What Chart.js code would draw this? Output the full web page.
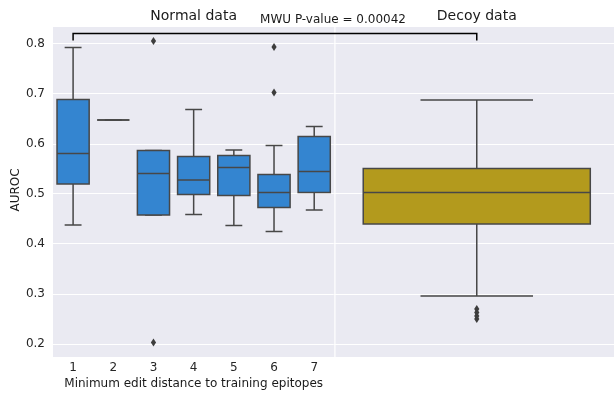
<!DOCTYPE html>
<html>
<head>
<meta charset="utf-8">
<script src="https://cdn.jsdelivr.net/npm/chart.js@4/dist/chart.umd.min.js"></script>
<style>
  body { margin: 0; background: #fff; }
  #chart-container { width: 614px; height: 396px; position: relative; }
</style>
</head>
<body>
<div id="chart-container"><canvas id="chart"></canvas></div>
<script>
// values
const categories = ["1", "2", "3", "4", "5", "6", "7"];
const whiskerLow = [0.438, 0.648, 0.458, 0.459, 0.437, 0.425, 0.468];
const q1 = [0.520, 0.648, 0.458, 0.499, 0.497, 0.473, 0.503];
const medians = [0.581, 0.648, 0.541, 0.528, 0.553, 0.503, 0.545];
const q3 = [0.689, 0.648, 0.587, 0.575, 0.577, 0.539, 0.615];
const whiskerHigh = [0.793, 0.648, 0.587, 0.669, 0.588, 0.597, 0.635];
const outliers = [[], [], [0.806, 0.203], [], [], [0.794, 0.703], []];

// decoy: low whisker, q1, median, q3, high whisker
const decoyStats = [0.296, 0.440, 0.503, 0.551, 0.688];
const decoyOutliers = [0.270, 0.263, 0.256, 0.250];

const yTicks = [0.2, 0.3, 0.4, 0.5, 0.6, 0.7, 0.8];
const pValueText = "MWU P-value = 0.00042";
const bracketY = 0.821;
const bracketDrop = 0.014;

// layout of the two panels on one linear x scale
const panelGap = 0.03;
const decoySpan = 6.93;
const decoyCenter = 7.5 + panelGap + decoySpan / 2 + 0.05;
const xMax = 7.5 + panelGap + decoySpan;

const FONT = "DejaVu Sans";
const normalColor = "#3485d0";
const decoyColor = "#b39a1d";
const edgeColor = "#474747";
const panelColor = "#eaeaf2";

function drawDiamond(ctx, x, y) {
    ctx.beginPath();
    ctx.moveTo(x, y - 4);
    ctx.lineTo(x + 2.6, y);
    ctx.lineTo(x, y + 4);
    ctx.lineTo(x - 2.6, y);
    ctx.closePath();
    ctx.fill();
}

function drawBox(ctx, xs, ys, center, boxW, capW, stats, fill, extra) {
    const [lo, b1, med, b3, hi] = stats.map(v => ys.getPixelForValue(v));
    const cx = xs.getPixelForValue(center);
    const left = xs.getPixelForValue(center - boxW / 2);
    const right = xs.getPixelForValue(center + boxW / 2);
    const capL = xs.getPixelForValue(center - capW / 2);
    const capR = xs.getPixelForValue(center + capW / 2);

    ctx.strokeStyle = edgeColor;
    ctx.lineWidth = 1.5;
    // whiskers
    ctx.beginPath();
    ctx.moveTo(cx, b3); ctx.lineTo(cx, hi);
    ctx.moveTo(cx, b1); ctx.lineTo(cx, lo);
    ctx.moveTo(capL, hi); ctx.lineTo(capR, hi);
    ctx.moveTo(capL, lo); ctx.lineTo(capR, lo);
    ctx.stroke();
    // box
    ctx.fillStyle = fill;
    ctx.fillRect(left, b3, right - left, b1 - b3);
    ctx.strokeRect(left, b3, right - left, b1 - b3);
    ctx.beginPath();
    ctx.moveTo(left, med); ctx.lineTo(right, med);
    ctx.stroke();
    // fliers
    ctx.fillStyle = "#3d3d3d";
    extra.forEach(v => drawDiamond(ctx, cx, ys.getPixelForValue(v)));
}

const boxPlugin = {
    id: "boxPlugin",
    beforeDraw(chart) {
        const { ctx, chartArea, scales } = chart;
        const xs = scales.x;
        ctx.save();
        ctx.fillStyle = "#ffffff";
        ctx.fillRect(0, 0, chart.width, chart.height);
        ctx.fillStyle = panelColor;
        const l0 = xs.getPixelForValue(0.5), l1 = xs.getPixelForValue(7.5);
        const r0 = xs.getPixelForValue(7.5 + panelGap), r1 = xs.getPixelForValue(xMax);
        ctx.fillRect(l0, chartArea.top, l1 - l0, chartArea.bottom - chartArea.top);
        ctx.fillRect(r0, chartArea.top, r1 - r0, chartArea.bottom - chartArea.top);
        ctx.restore();
    },
    afterDatasetsDraw(chart) {
        const { ctx, chartArea, scales } = chart;
        const xs = scales.x, ys = scales.y;
        ctx.save();
        categories.forEach((c, i) => {
            const stats = [whiskerLow[i], q1[i], medians[i], q3[i], whiskerHigh[i]];
            drawBox(ctx, xs, ys, i + 1, 0.8, 0.42, stats, normalColor, outliers[i]);
        });
        drawBox(ctx, xs, ys, decoyCenter, 5.65, 2.8, decoyStats, decoyColor, decoyOutliers);

        // significance bracket
        const bx0 = xs.getPixelForValue(1), bx1 = xs.getPixelForValue(decoyCenter);
        const by = ys.getPixelForValue(bracketY), byd = ys.getPixelForValue(bracketY - bracketDrop);
        ctx.strokeStyle = "#000000";
        ctx.lineWidth = 1.5;
        ctx.beginPath();
        ctx.moveTo(bx0, byd); ctx.lineTo(bx0, by); ctx.lineTo(bx1, by); ctx.lineTo(bx1, byd);
        ctx.stroke();

        // texts
        ctx.fillStyle = "#1a1a1a";
        ctx.textAlign = "center";
        ctx.textBaseline = "middle";
        const leftMid = (xs.getPixelForValue(0.5) + xs.getPixelForValue(7.5)) / 2;
        ctx.font = "14px '" + FONT + "'";
        ctx.fillText("Normal data", leftMid, 16);
        ctx.fillText("Decoy data", xs.getPixelForValue(decoyCenter), 16);
        ctx.font = "12px '" + FONT + "'";
        ctx.fillText(pValueText, 333, 20);
        ctx.fillText("Minimum edit distance to training epitopes", leftMid, 384);
        ctx.translate(16, (chartArea.top + chartArea.bottom) / 2 - 2);
        ctx.rotate(-Math.PI / 2);
        ctx.fillText("AUROC", 0, 0);
        ctx.restore();
    }
};

const chartCanvas = document.getElementById("chart");

new Chart(chartCanvas.getContext("2d"), {
    type: "scatter",
    data: { datasets: [] },
    plugins: [boxPlugin],
    options: {
        responsive: true,
        maintainAspectRatio: false,
        animation: false,
        devicePixelRatio: 1,
        layout: { padding: { top: 27, right: 0, left: 0, bottom: 0 } },
        plugins: { legend: { display: false }, tooltip: { enabled: false } },
        scales: {
            x: {
                type: "linear",
                min: 0.5,
                max: xMax,
                afterBuildTicks: axis => { axis.ticks = categories.map((c, i) => ({ value: i + 1 })); },
                afterFit: axis => { axis.height = 39; },
                grid: { display: false, drawTicks: false },
                border: { display: false },
                ticks: {
                    padding: 4,
                    color: "#262626",
                    font: { family: FONT, size: 12 },
                    callback: (v) => categories[Math.round(v) - 1]
                }
            },
            y: {
                type: "linear",
                min: 0.174,
                max: 0.834,
                afterBuildTicks: axis => { axis.ticks = yTicks.map(v => ({ value: v })); },
                afterFit: axis => { axis.width = 53; },
                grid: { color: "#ffffff", lineWidth: 1, drawTicks: false },
                border: { display: false },
                ticks: {
                    padding: 8,
                    color: "#262626",
                    font: { family: FONT, size: 12 },
                    callback: v => v.toFixed(1)
                }
            }
        }
    }
});
</script>
</body>
</html>
